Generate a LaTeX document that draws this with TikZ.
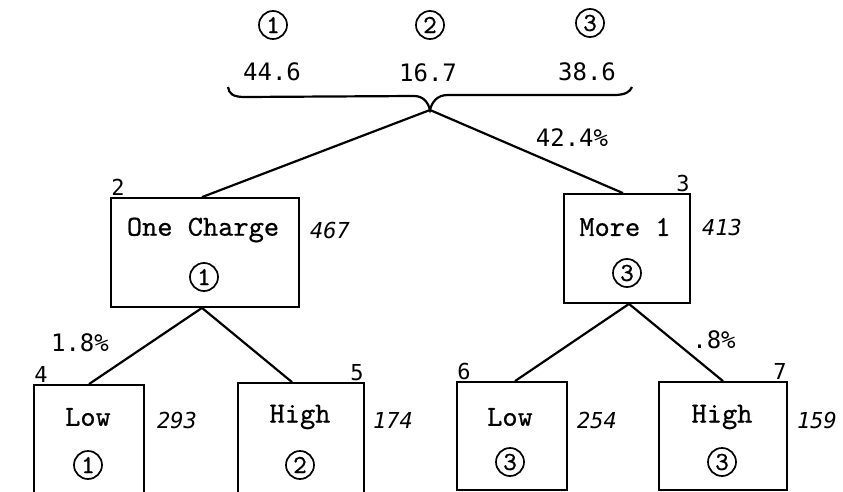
\documentclass[tikz,border=0pt]{standalone}
\usepackage{fontspec}
\newfontfamily\twfont[FakeBold=0.6]{lmmono10-regular.otf}
\newfontfamily\gothfont{DejaVu Sans Mono}
\tikzset{
  box/.style={draw, line width=1.8pt, rectangle, inner sep=0pt},
  conn/.style={line width=2.2pt},
  lbl/.style={font=\twfont\fontsize{29}{29}\selectfont, inner sep=0pt},
  cnum/.style={draw, circle, line width=1.7pt, minimum size=28pt, inner sep=0pt, font=\twfont\fontsize{26}{26}\selectfont},
  pct/.style={font=\gothfont\fontsize{24}{24}\selectfont, inner sep=0pt},
  idx/.style={font=\gothfont\fontsize{22}{22}\selectfont, inner sep=1pt},
  cnt/.style={font=\gothfont\itshape\fontsize{22}{22}\selectfont, inner sep=0pt}
}
\begin{document}
\begin{tikzpicture}[x=1pt,y=-1pt]
\useasboundingbox (0,0) rectangle (843,492);
\clip (0,0) rectangle (843,492);
% top summary
\node[cnum] (t1) at (273,25) {1};
\node[cnum] (t2) at (430,25) {2};
\node[cnum] (t3) at (590,23) {3};
\node[pct] (v1) at (272,72) {44.6};
\node[pct] (v2) at (428,73) {16.7};
\node[pct] (v3) at (587,72) {38.6};
\coordinate (tip) at (430,110);
\draw[conn] (228,87) .. controls (229,94) and (233,97) .. (245,97) -- (414,96)
  .. controls (423,96) and (428,102) .. (tip)
  .. controls (432,102) and (437,95) .. (448,95) -- (614,95)
  .. controls (625,95) and (630,92) .. (632,87);
% boxes
\node[box, minimum width=188pt, minimum height=109pt] (b2) at (205,252.5) {};
\node[box, minimum width=126pt, minimum height=109pt] (b3) at (627,248.5) {};
\node[box, minimum width=110pt, minimum height=130pt] (b4) at (89,450) {};
\node[box, minimum width=126pt, minimum height=130pt] (b5) at (301,448) {};
\node[box, minimum width=110pt, minimum height=108pt] (b6) at (512,436) {};
\node[box, minimum width=128pt, minimum height=108pt] (b7) at (723,436) {};
% box contents
\node[lbl] (l2) at (203,230) {One Charge};
\node[cnum] (c2) at (204,277) {1};
\node[lbl] (l3) at (625,227) {More 1};
\node[cnum] (c3) at (627,273) {3};
\node[lbl] (l4) at (88,417) {Low};
\node[cnum] (c4) at (88,465) {1};
\node[lbl] (l5) at (300,417) {High};
\node[cnum] (c5) at (300,465) {2};
\node[lbl] (l6) at (510,417) {Low};
\node[cnum] (c6) at (510,462) {3};
\node[lbl] (l7) at (722,417) {High};
\node[cnum] (c7) at (722,462) {3};
% indices
\node[idx, anchor=south west] (i2) at (b2.north west) {2};
\node[idx, anchor=south east] (i3) at (b3.north east) {3};
\node[idx, anchor=south west] (i4) at (b4.north west) {4};
\node[idx, anchor=south east] (i5) at (b5.north east) {5};
\node[idx, anchor=south west] (i6) at (b6.north west) {6};
\node[idx, anchor=south east] (i7) at (b7.north east) {7};
% counts
\node[cnt] (n2) at (330,230) {467};
\node[cnt] (n3) at (722,227) {413};
\node[cnt] (n4) at (177,420) {293};
\node[cnt] (n5) at (393,420) {174};
\node[cnt] (n6) at (597,420) {254};
\node[cnt] (n7) at (817,420) {159};
% connectors
\draw[conn] (tip) -- ([xshift=-3pt]b2.north);
\draw[conn] (tip) -- ([xshift=-4pt]b3.north);
\draw[conn] ([xshift=-3pt]b2.south) -- (b4.north);
\draw[conn] ([xshift=-3pt]b2.south) -- ([xshift=-9pt]b5.north);
\draw[conn] ([xshift=2pt]b3.south) -- ([xshift=3pt]b6.north);
\draw[conn] ([xshift=2pt]b3.south) -- (b7.north);
% percentages
\node[pct] (p1) at (572,138) {42.4\%};
\node[pct] (p2) at (80,343) {1.8\%};
\node[pct] (p3) at (714,340) {.8\%};
\end{tikzpicture}
\end{document}
